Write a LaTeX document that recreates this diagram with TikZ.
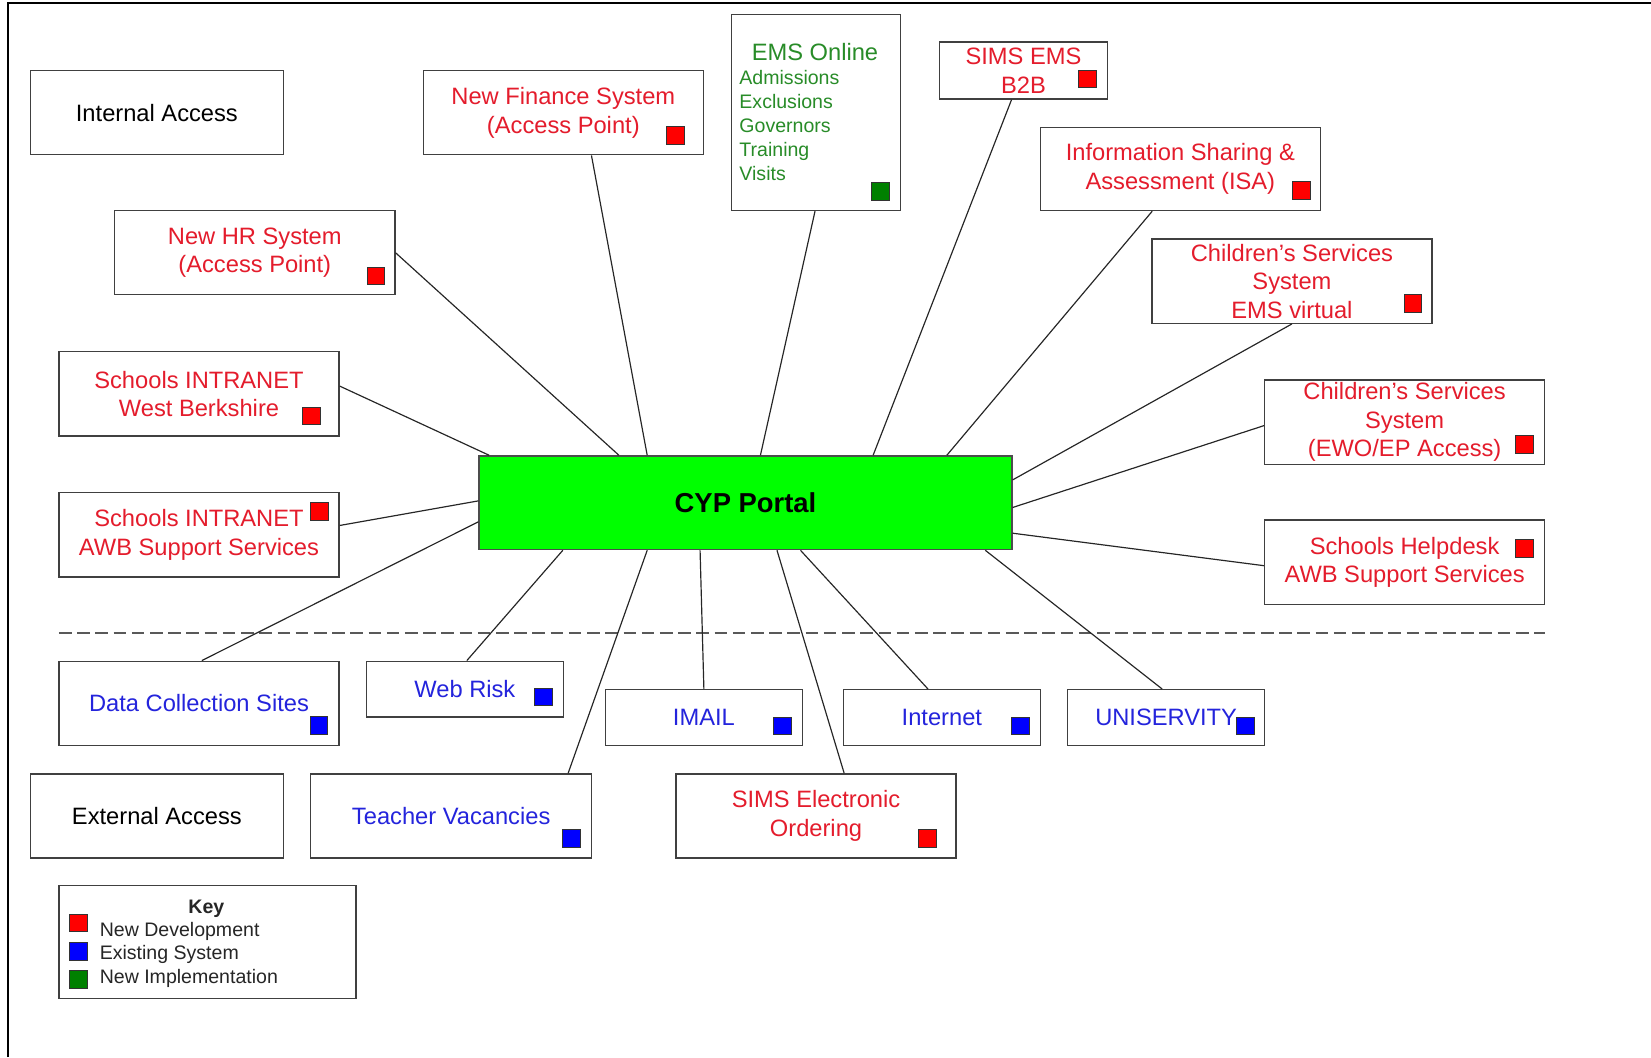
\documentclass[tikz,border=0pt]{standalone}
\usepackage{fontspec}
\setmainfont{Liberation Sans}
\usetikzlibrary{calc}
\definecolor{rtext}{RGB}{228,28,44}
\definecolor{btext}{RGB}{36,36,220}
\definecolor{gtext}{RGB}{40,140,40}
\definecolor{mred}{RGB}{255,0,0}
\definecolor{mblue}{RGB}{0,0,255}
\definecolor{mgreen}{RGB}{0,128,0}
\definecolor{cypgreen}{RGB}{0,255,0}
\tikzset{
  box/.style={draw=black!75, line width=0.9pt, fill=white, inner sep=0pt, align=center,
    font=\fontsize{16}{19.2}\selectfont},
  sqmark/.style={draw=black!80, line width=0.6pt, minimum size=0.42cm, inner sep=0pt},
  conn/.style={draw=black!85, line width=0.8pt},
  sep/.style={draw=black!65, line width=1.3pt, dash pattern=on 8.5pt off 3.8pt},
  emslist/.style={text=gtext, anchor=base west, inner sep=0pt, font=\fontsize{13.2}{16}\selectfont},
  keytext/.style={text=black!85, anchor=base west, inner sep=0pt, font=\fontsize{13.2}{16}\selectfont}
}
\newcommand\bx[6]{\node[box,#6,minimum width={(#4-#2)*0.025cm},minimum height={(#5-#3)*0.025cm}] (#1) at ({(#2+#4)/2},{(#3+#5)/2})}
\newcommand\mk[4]{\node[sqmark,fill=#4] (#1) at (#2,#3) {};}
\begin{document}
\begin{tikzpicture}[x=0.025cm,y=-0.025cm]
\useasboundingbox (0,0) rectangle (1568,1004);
% frame
\coordinate (fbl) at (8,1004);
\coordinate (ftl) at (8,3);
\coordinate (ftr) at (1568,3);
\draw[line width=1.4pt] (fbl) -- (ftl) -- (ftr);

% boxes
\bx{ia}{29}{67}{269}{147}{}{Internal Access};
\bx{fin}{402}{67}{668}{147}{text=rtext}{New Finance System\\(Access Point)};
\bx{ems}{695}{14}{855}{200}{}{};
\bx{b2b}{892}{40}{1052}{94}{text=rtext}{SIMS EMS\\B2B};
\bx{isa}{988}{121}{1254}{200}{text=rtext}{Information Sharing \&\\Assessment (ISA)};
\bx{csv}{1094}{227}{1360}{307}{text=rtext}{Children’s Services\\System\\EMS virtual};
\bx{cse}{1201}{361}{1467}{441}{text=rtext}{Children’s Services\\System\\(EWO/EP Access)};
\bx{hd}{1201}{494}{1467}{574}{text=rtext}{Schools Helpdesk\\AWB Support Services};
\bx{hr}{109}{200}{375}{280}{text=rtext}{New HR System\\(Access Point)};
\bx{wb}{56}{334}{322}{414}{text=rtext}{Schools INTRANET\\West Berkshire};
\bx{awb}{56}{468}{322}{548}{text=rtext}{Schools INTRANET\\AWB Support Services};
\bx{cyp}{455}{433}{961}{522}{fill=cypgreen,draw=black!70,font=\fontsize{18.5}{22}\selectfont\bfseries}{CYP Portal};
\bx{dc}{56}{628}{322}{708}{text=btext}{Data Collection Sites};
\bx{wr}{348}{628}{535}{681}{text=btext}{Web Risk};
\bx{im}{575}{655}{762}{708}{text=btext}{IMAIL};
\bx{inet}{801}{655}{988}{708}{text=btext}{Internet};
\bx{uni}{1014}{655}{1201}{708}{text=btext}{UNISERVITY};
\bx{ea}{29}{735}{269}{815}{}{External Access};
\bx{tv}{295}{735}{562}{815}{text=btext}{Teacher Vacancies};
\bx{seo}{642}{735}{908}{815}{text=rtext}{SIMS Electronic\\Ordering};
\bx{key}{56}{841}{338}{948}{}{};

% EMS online contents
\node[text=gtext, inner sep=0pt, anchor=base, font=\fontsize{16}{19.2}\selectfont] (emst) at (774,57) {EMS Online};
\foreach \t [count=\i] in {Admissions,Exclusions,Governors,Training,Visits}
  \node[emslist] (emsl\i) at (702,{80.6+(\i-1)*22.75}) {\t};

% key contents
\node[inner sep=0pt, anchor=base, font=\fontsize{13.2}{16}\selectfont\bfseries, text=black!85] (keyt) at (196,867.5) {Key};
\node[keytext] (k1) at (94.5,889.5) {New Development};
\node[keytext] (k2) at (94.5,911.5) {Existing System};
\node[keytext] (k3) at (94.5,934.5) {New Implementation};
\mk{km1}{74.5}{876.5}{mred}
\mk{km2}{74.5}{903.5}{mblue}
\mk{km3}{74.5}{930}{mgreen}

% markers
\mk{m1}{641.6}{128.5}{mred}
\mk{m2}{836}{181.8}{mgreen}
\mk{m3}{1033}{75}{mred}
\mk{m4}{1236}{181}{mred}
\mk{m5}{1342}{288}{mred}
\mk{m6}{1448}{422}{mred}
\mk{m7}{1448}{521}{mred}
\mk{m8}{357}{262}{mred}
\mk{m9}{295.5}{395}{mred}
\mk{m10}{303.5}{486}{mred}
\mk{m11}{303}{689}{mblue}
\mk{m12}{516}{662}{mblue}
\mk{m13}{743}{689.5}{mblue}
\mk{m14}{969}{689.5}{mblue}
\mk{m15}{1183}{689.5}{mblue}
\mk{m16}{543}{796}{mblue}
\mk{m17}{881}{796}{mred}

% separator
\coordinate (dl) at (56,601);
\coordinate (dr) at (1467,601);
\draw[sep] (dl) -- (dr);

% connectors
\draw[conn] ($(fin.south west)!0.60!(fin.south east)$) -- ($(cyp.north west)!0.316!(cyp.north east)$);
\draw[conn] ($(ems.south west)!0.494!(ems.south east)$) -- ($(cyp.north west)!0.528!(cyp.north east)$);
\draw[conn] ($(b2b.south west)!0.43!(b2b.south east)$) -- ($(cyp.north west)!0.739!(cyp.north east)$);
\draw[conn] ($(isa.south west)!0.40!(isa.south east)$) -- ($(cyp.north west)!0.877!(cyp.north east)$);
\draw[conn] (csv.south) -- ($(cyp.north east)!0.26!(cyp.south east)$);
\draw[conn] ($(cse.north west)!0.54!(cse.south west)$) -- ($(cyp.north east)!0.55!(cyp.south east)$);
\draw[conn] ($(hd.north west)!0.54!(hd.south west)$) -- ($(cyp.north east)!0.82!(cyp.south east)$);
\draw[conn] (hr.east) -- ($(cyp.north west)!0.263!(cyp.north east)$);
\draw[conn] ($(wb.north east)!0.41!(wb.south east)$) -- ($(cyp.north west)!0.02!(cyp.north east)$);
\draw[conn] ($(awb.north east)!0.39!(awb.south east)$) -- ($(cyp.north west)!0.48!(cyp.south west)$);
\draw[conn] ($(dc.north west)!0.51!(dc.north east)$) -- ($(cyp.north west)!0.70!(cyp.south west)$);
\draw[conn] ($(wr.north west)!0.51!(wr.north east)$) -- ($(cyp.south west)!0.158!(cyp.south east)$);
\draw[conn] ($(tv.north west)!0.914!(tv.north east)$) -- ($(cyp.south west)!0.316!(cyp.south east)$);
\draw[conn] ($(im.north west)!0.50!(im.north east)$) -- ($(cyp.south west)!0.415!(cyp.south east)$);
\draw[conn] ($(seo.north west)!0.60!(seo.north east)$) -- ($(cyp.south west)!0.559!(cyp.south east)$);
\draw[conn] ($(inet.north west)!0.43!(inet.north east)$) -- ($(cyp.south west)!0.603!(cyp.south east)$);
\draw[conn] ($(uni.north west)!0.48!(uni.north east)$) -- ($(cyp.south west)!0.949!(cyp.south east)$);
\end{tikzpicture}
\end{document}
